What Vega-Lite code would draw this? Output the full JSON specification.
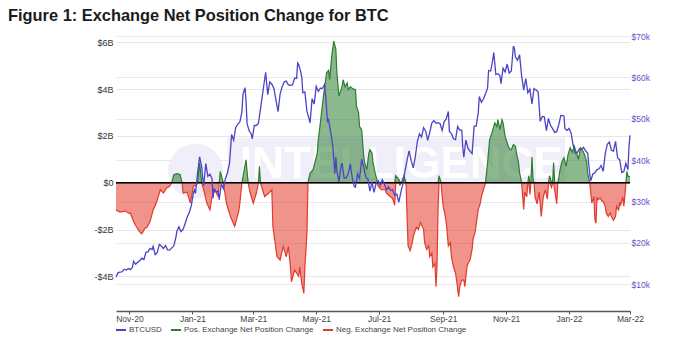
{
"$schema":"https://vega.github.io/schema/vega-lite/v6.json",
"width":514,"height":275,
"autosize":{"type":"none"},
"padding":{"left":116,"top":36,"right":49,"bottom":26},
"background":"#ffffff",
"config":{"view":{"stroke":null},"font":"Liberation Sans","axis":{"labelFont":"Liberation Sans"},"legend":{"labelFont":"Liberation Sans"}},
"title":{"text":"Figure 1: Exchange Net Position Change for BTC","anchor":"start","frame":"group","dx":-108,"offset":8,"fontSize":16.4,"fontWeight":"bold","font":"Liberation Sans","color":"#1b1b1b"},
"datasets":{
"net":[
{"date":"2020-10-19","pos":0,"neg":-1.16},{"date":"2020-10-23","pos":0,"neg":-1.25},{"date":"2020-10-28","pos":0,"neg":-1.2},{"date":"2020-10-31","pos":0,"neg":-1.3},{"date":"2020-11-02","pos":0,"neg":-1.3},{"date":"2020-11-05","pos":0,"neg":-1.66},{"date":"2020-11-08","pos":0,"neg":-1.9},{"date":"2020-11-11","pos":0,"neg":-2.1},{"date":"2020-11-13","pos":0,"neg":-2.18},{"date":"2020-11-16","pos":0,"neg":-1.95},{"date":"2020-11-18","pos":0,"neg":-1.9},{"date":"2020-11-21","pos":0,"neg":-1.66},{"date":"2020-11-24","pos":0,"neg":-1.16},{"date":"2020-11-27","pos":0,"neg":-0.87},{"date":"2020-12-01","pos":0,"neg":-0.3},{"date":"2020-12-04","pos":0,"neg":-0.44},{"date":"2020-12-07","pos":0,"neg":-0.22},{"date":"2020-12-10","pos":0,"neg":-0.15},{"date":"2020-12-12","pos":0,"neg":0},{"date":"2020-12-14","pos":0.34,"neg":0},{"date":"2020-12-17","pos":0.39,"neg":0},{"date":"2020-12-20","pos":0.35,"neg":0},{"date":"2020-12-22","pos":0,"neg":0},{"date":"2020-12-23","pos":0,"neg":-0.44},{"date":"2020-12-27","pos":0,"neg":-0.4},{"date":"2020-12-30","pos":0,"neg":-0.87},{"date":"2021-01-02","pos":0,"neg":-0.15},{"date":"2021-01-05","pos":0,"neg":-0.1},{"date":"2021-01-06","pos":0,"neg":0},{"date":"2021-01-08","pos":0.85,"neg":0},{"date":"2021-01-10","pos":0,"neg":0},{"date":"2021-01-12","pos":0,"neg":-0.3},{"date":"2021-01-15","pos":0,"neg":-0.87},{"date":"2021-01-18","pos":0,"neg":-1.16},{"date":"2021-01-20","pos":0,"neg":-0.6},{"date":"2021-01-23","pos":0,"neg":-0.3},{"date":"2021-01-26","pos":0,"neg":-0.6},{"date":"2021-01-27","pos":0,"neg":0},{"date":"2021-01-28","pos":0.48,"neg":0},{"date":"2021-01-31","pos":0,"neg":0},{"date":"2021-02-03","pos":0,"neg":-0.87},{"date":"2021-02-07","pos":0,"neg":-1.45},{"date":"2021-02-11","pos":0,"neg":-1.87},{"date":"2021-02-15","pos":0,"neg":-1.2},{"date":"2021-02-16","pos":0,"neg":-0.87},{"date":"2021-02-18","pos":0,"neg":0},{"date":"2021-02-22","pos":0.98,"neg":0},{"date":"2021-02-24","pos":0,"neg":0},{"date":"2021-02-26","pos":0,"neg":-0.44},{"date":"2021-03-01","pos":0,"neg":-0.87},{"date":"2021-03-04","pos":0,"neg":-0.44},{"date":"2021-03-06","pos":0,"neg":0},{"date":"2021-03-07","pos":0.7,"neg":0},{"date":"2021-03-08","pos":0,"neg":0},{"date":"2021-03-09","pos":0,"neg":-0.15},{"date":"2021-03-12","pos":0,"neg":-0.6},{"date":"2021-03-16","pos":0,"neg":-0.44},{"date":"2021-03-19","pos":0,"neg":-0.3},{"date":"2021-03-20","pos":0,"neg":-1.87},{"date":"2021-03-24","pos":0,"neg":-3.16},{"date":"2021-03-27","pos":0,"neg":-3.3},{"date":"2021-03-30","pos":0,"neg":-2.73},{"date":"2021-04-02","pos":0,"neg":-3.16},{"date":"2021-04-04","pos":0,"neg":-2.73},{"date":"2021-04-06","pos":0,"neg":-3.6},{"date":"2021-04-07","pos":0,"neg":-4.23},{"date":"2021-04-10","pos":0,"neg":-3.73},{"date":"2021-04-14","pos":0,"neg":-4.0},{"date":"2021-04-15","pos":0,"neg":-3.6},{"date":"2021-04-17","pos":0,"neg":-4.3},{"date":"2021-04-19","pos":0,"neg":-4.73},{"date":"2021-04-20","pos":0,"neg":-3.6},{"date":"2021-04-22","pos":0,"neg":-2.16},{"date":"2021-04-23","pos":0,"neg":0},{"date":"2021-04-25","pos":0.4,"neg":0},{"date":"2021-04-28","pos":0.56,"neg":0},{"date":"2021-05-02","pos":1.26,"neg":0},{"date":"2021-05-03","pos":1.84,"neg":0},{"date":"2021-05-05","pos":2.56,"neg":0},{"date":"2021-05-08","pos":3.7,"neg":0},{"date":"2021-05-11","pos":4.7,"neg":0},{"date":"2021-05-13","pos":4.8,"neg":0},{"date":"2021-05-14","pos":4.4,"neg":0},{"date":"2021-05-16","pos":5.4,"neg":0},{"date":"2021-05-18","pos":6.05,"neg":0},{"date":"2021-05-20","pos":5.7,"neg":0},{"date":"2021-05-21","pos":4.7,"neg":0},{"date":"2021-05-23","pos":3.7,"neg":0},{"date":"2021-05-26","pos":4.1,"neg":0},{"date":"2021-05-27","pos":4.4,"neg":0},{"date":"2021-05-29","pos":4.1,"neg":0},{"date":"2021-05-31","pos":4.27,"neg":0},{"date":"2021-06-01","pos":3.98,"neg":0},{"date":"2021-06-03","pos":4.1,"neg":0},{"date":"2021-06-06","pos":4.0,"neg":0},{"date":"2021-06-08","pos":3.98,"neg":0},{"date":"2021-06-09","pos":3.27,"neg":0},{"date":"2021-06-11","pos":3.0,"neg":0},{"date":"2021-06-12","pos":2.4,"neg":0},{"date":"2021-06-14","pos":2.27,"neg":0},{"date":"2021-06-16","pos":1.13,"neg":0},{"date":"2021-06-17","pos":0.85,"neg":0},{"date":"2021-06-19","pos":0.56,"neg":0},{"date":"2021-06-21","pos":1.27,"neg":0},{"date":"2021-06-22","pos":1.41,"neg":0},{"date":"2021-06-24","pos":1.27,"neg":0},{"date":"2021-06-25","pos":0.85,"neg":0},{"date":"2021-06-27","pos":0.43,"neg":0},{"date":"2021-06-29","pos":0.07,"neg":0},{"date":"2021-06-30","pos":0,"neg":-0.15},{"date":"2021-07-03","pos":0,"neg":-0.3},{"date":"2021-07-07","pos":0,"neg":-0.3},{"date":"2021-07-08","pos":0,"neg":-0.44},{"date":"2021-07-12","pos":0,"neg":-0.6},{"date":"2021-07-14","pos":0,"neg":-0.67},{"date":"2021-07-16","pos":0,"neg":-0.96},{"date":"2021-07-17","pos":0.3,"neg":0},{"date":"2021-07-20","pos":0.15,"neg":0},{"date":"2021-07-21","pos":0,"neg":-0.1},{"date":"2021-07-23","pos":0.05,"neg":0},{"date":"2021-07-25","pos":0.3,"neg":0},{"date":"2021-07-27","pos":0,"neg":0},{"date":"2021-07-28","pos":0,"neg":-1.43},{"date":"2021-07-29","pos":0,"neg":-2.7},{"date":"2021-07-31","pos":0,"neg":-2.9},{"date":"2021-08-02","pos":0,"neg":-2.56},{"date":"2021-08-03","pos":0,"neg":-2.3},{"date":"2021-08-06","pos":0,"neg":-1.9},{"date":"2021-08-08","pos":0,"neg":-2.0},{"date":"2021-08-10","pos":0,"neg":-1.7},{"date":"2021-08-11","pos":0,"neg":-1.8},{"date":"2021-08-13","pos":0,"neg":-2.0},{"date":"2021-08-14","pos":0,"neg":-2.56},{"date":"2021-08-16","pos":0,"neg":-2.85},{"date":"2021-08-18","pos":0,"neg":-2.7},{"date":"2021-08-19","pos":0,"neg":-3.16},{"date":"2021-08-21","pos":0,"neg":-3.0},{"date":"2021-08-22","pos":0,"neg":-3.6},{"date":"2021-08-24","pos":0,"neg":-3.45},{"date":"2021-08-25","pos":0,"neg":-4.44},{"date":"2021-08-26","pos":0,"neg":-3.6},{"date":"2021-08-27","pos":0,"neg":-1.14},{"date":"2021-08-28","pos":0.3,"neg":0},{"date":"2021-08-30","pos":0,"neg":0},{"date":"2021-08-31","pos":0,"neg":-0.6},{"date":"2021-09-01","pos":0,"neg":-1.0},{"date":"2021-09-03","pos":0,"neg":-1.43},{"date":"2021-09-04","pos":0,"neg":-1.7},{"date":"2021-09-06","pos":0,"neg":-2.7},{"date":"2021-09-08","pos":0,"neg":-2.56},{"date":"2021-09-09","pos":0,"neg":-3.16},{"date":"2021-09-11","pos":0,"neg":-3.6},{"date":"2021-09-13","pos":0,"neg":-3.87},{"date":"2021-09-14","pos":0,"neg":-4.16},{"date":"2021-09-16","pos":0,"neg":-4.87},{"date":"2021-09-17","pos":0,"neg":-4.44},{"date":"2021-09-19","pos":0,"neg":-4.16},{"date":"2021-09-21","pos":0,"neg":-4.16},{"date":"2021-09-22","pos":0,"neg":-4.44},{"date":"2021-09-24","pos":0,"neg":-3.6},{"date":"2021-09-25","pos":0,"neg":-3.45},{"date":"2021-09-27","pos":0,"neg":-3.3},{"date":"2021-09-29","pos":0,"neg":-2.85},{"date":"2021-09-30","pos":0,"neg":-2.4},{"date":"2021-10-02","pos":0,"neg":-2.1},{"date":"2021-10-04","pos":0,"neg":-1.45},{"date":"2021-10-05","pos":0,"neg":-1.14},{"date":"2021-10-07","pos":0,"neg":-0.87},{"date":"2021-10-08","pos":0,"neg":-0.6},{"date":"2021-10-10","pos":0,"neg":-0.3},{"date":"2021-10-12","pos":0,"neg":0},{"date":"2021-10-14","pos":0.85,"neg":0},{"date":"2021-10-16","pos":1.84,"neg":0},{"date":"2021-10-18","pos":2.1,"neg":0},{"date":"2021-10-20","pos":2.4,"neg":0},{"date":"2021-10-21","pos":2.56,"neg":0},{"date":"2021-10-23","pos":2.4,"neg":0},{"date":"2021-10-24","pos":2.7,"neg":0},{"date":"2021-10-26","pos":2.27,"neg":0},{"date":"2021-10-28","pos":2.7,"neg":0},{"date":"2021-10-29","pos":2.56,"neg":0},{"date":"2021-10-31","pos":1.98,"neg":0},{"date":"2021-11-02","pos":1.7,"neg":0},{"date":"2021-11-03","pos":1.56,"neg":0},{"date":"2021-11-05","pos":1.41,"neg":0},{"date":"2021-11-06","pos":1.41,"neg":0},{"date":"2021-11-08","pos":1.63,"neg":0},{"date":"2021-11-10","pos":1.56,"neg":0},{"date":"2021-11-11","pos":1.27,"neg":0},{"date":"2021-11-13","pos":0.85,"neg":0},{"date":"2021-11-14","pos":0.43,"neg":0},{"date":"2021-11-16","pos":0,"neg":0},{"date":"2021-11-18","pos":0,"neg":-1.14},{"date":"2021-11-19","pos":0,"neg":-0.4},{"date":"2021-11-21","pos":0,"neg":-0.6},{"date":"2021-11-22","pos":0,"neg":0},{"date":"2021-11-23","pos":0.3,"neg":0},{"date":"2021-11-24","pos":0,"neg":-0.5},{"date":"2021-11-25","pos":0,"neg":0},{"date":"2021-11-26","pos":1.1,"neg":0},{"date":"2021-11-27","pos":0.2,"neg":0},{"date":"2021-11-28","pos":0,"neg":0},{"date":"2021-11-29","pos":0,"neg":-0.6},{"date":"2021-12-01","pos":0,"neg":-0.9},{"date":"2021-12-03","pos":0,"neg":-0.4},{"date":"2021-12-05","pos":0,"neg":-1.44},{"date":"2021-12-07","pos":0,"neg":-0.6},{"date":"2021-12-09","pos":0,"neg":-0.3},{"date":"2021-12-11","pos":0,"neg":-0.7},{"date":"2021-12-12","pos":0,"neg":0},{"date":"2021-12-13","pos":0.3,"neg":0},{"date":"2021-12-15","pos":0,"neg":-0.2},{"date":"2021-12-16","pos":0,"neg":0},{"date":"2021-12-17","pos":0.86,"neg":0},{"date":"2021-12-18","pos":0,"neg":-0.3},{"date":"2021-12-20","pos":0,"neg":-0.9},{"date":"2021-12-21","pos":0,"neg":0},{"date":"2021-12-22","pos":0.2,"neg":0},{"date":"2021-12-23","pos":0.5,"neg":0},{"date":"2021-12-25","pos":0.9,"neg":0},{"date":"2021-12-27","pos":1.07,"neg":0},{"date":"2021-12-29","pos":0.7,"neg":0},{"date":"2021-12-31","pos":1.2,"neg":0},{"date":"2022-01-02","pos":1.5,"neg":0},{"date":"2022-01-04","pos":1.3,"neg":0},{"date":"2022-01-06","pos":1.56,"neg":0},{"date":"2022-01-08","pos":1.3,"neg":0},{"date":"2022-01-10","pos":1.0,"neg":0},{"date":"2022-01-12","pos":1.49,"neg":0},{"date":"2022-01-14","pos":1.4,"neg":0},{"date":"2022-01-16","pos":1.2,"neg":0},{"date":"2022-01-18","pos":0.9,"neg":0},{"date":"2022-01-19","pos":0.4,"neg":0},{"date":"2022-01-21","pos":0,"neg":0},{"date":"2022-01-23","pos":0,"neg":-0.87},{"date":"2022-01-25","pos":0,"neg":-0.6},{"date":"2022-01-26","pos":0,"neg":-1.58},{"date":"2022-01-27","pos":0,"neg":-1.73},{"date":"2022-01-28","pos":0,"neg":-0.65},{"date":"2022-01-29","pos":0,"neg":-0.73},{"date":"2022-01-31","pos":0,"neg":-0.65},{"date":"2022-02-02","pos":0,"neg":-0.8},{"date":"2022-02-03","pos":0,"neg":-0.8},{"date":"2022-02-05","pos":0,"neg":-1.0},{"date":"2022-02-06","pos":0,"neg":-1.3},{"date":"2022-02-08","pos":0,"neg":-1.44},{"date":"2022-02-10","pos":0,"neg":-1.3},{"date":"2022-02-11","pos":0,"neg":-1.44},{"date":"2022-02-13","pos":0,"neg":-1.6},{"date":"2022-02-15","pos":0,"neg":-1.44},{"date":"2022-02-16","pos":0,"neg":-1.0},{"date":"2022-02-18","pos":0,"neg":-1.16},{"date":"2022-02-19","pos":0,"neg":-0.87},{"date":"2022-02-20","pos":0,"neg":-0.95},{"date":"2022-02-22","pos":0,"neg":-0.6},{"date":"2022-02-23","pos":0,"neg":-1.0},{"date":"2022-02-24","pos":0,"neg":-0.6},{"date":"2022-02-25","pos":0,"neg":0},{"date":"2022-02-26","pos":0.49,"neg":0},{"date":"2022-02-27","pos":0.28,"neg":0},{"date":"2022-03-01","pos":0.25,"neg":0}
],
"btc":[
{"date":"2020-10-19","price":11.75},{"date":"2020-10-21","price":12.82},{"date":"2020-10-23","price":12.93},{"date":"2020-10-25","price":13.03},{"date":"2020-10-27","price":13.65},{"date":"2020-10-29","price":13.46},{"date":"2020-10-31","price":13.8},{"date":"2020-11-02","price":13.55},{"date":"2020-11-04","price":14.15},{"date":"2020-11-05","price":15.59},{"date":"2020-11-07","price":14.83},{"date":"2020-11-09","price":15.33},{"date":"2020-11-11","price":15.7},{"date":"2020-11-13","price":16.3},{"date":"2020-11-15","price":15.96},{"date":"2020-11-17","price":17.72},{"date":"2020-11-19","price":17.82},{"date":"2020-11-21","price":18.68},{"date":"2020-11-23","price":18.41},{"date":"2020-11-24","price":19.17},{"date":"2020-11-26","price":17.15},{"date":"2020-11-28","price":17.72},{"date":"2020-11-30","price":19.63},{"date":"2020-12-02","price":19.2},{"date":"2020-12-04","price":18.66},{"date":"2020-12-06","price":19.36},{"date":"2020-12-08","price":18.32},{"date":"2020-12-10","price":18.25},{"date":"2020-12-12","price":18.8},{"date":"2020-12-14","price":19.27},{"date":"2020-12-16","price":21.31},{"date":"2020-12-17","price":22.81},{"date":"2020-12-19","price":23.87},{"date":"2020-12-21","price":22.73},{"date":"2020-12-23","price":23.24},{"date":"2020-12-25","price":24.71},{"date":"2020-12-27","price":26.27},{"date":"2020-12-29","price":27.36},{"date":"2020-12-31","price":29.0},{"date":"2021-01-02","price":32.13},{"date":"2021-01-03","price":32.78},{"date":"2021-01-04","price":31.97},{"date":"2021-01-06","price":36.82},{"date":"2021-01-08","price":40.8},{"date":"2021-01-10","price":38.36},{"date":"2021-01-11","price":35.57},{"date":"2021-01-12","price":33.92},{"date":"2021-01-14","price":39.19},{"date":"2021-01-16","price":36.07},{"date":"2021-01-18","price":36.63},{"date":"2021-01-20","price":35.51},{"date":"2021-01-21","price":30.83},{"date":"2021-01-22","price":32.99},{"date":"2021-01-24","price":32.29},{"date":"2021-01-26","price":32.57},{"date":"2021-01-27","price":30.43},{"date":"2021-01-29","price":34.32},{"date":"2021-01-31","price":33.11},{"date":"2021-02-02","price":35.51},{"date":"2021-02-04","price":36.94},{"date":"2021-02-06","price":39.27},{"date":"2021-02-08","price":46.2},{"date":"2021-02-10","price":44.84},{"date":"2021-02-12","price":47.91},{"date":"2021-02-14","price":48.72},{"date":"2021-02-16","price":49.21},{"date":"2021-02-18","price":51.68},{"date":"2021-02-19","price":55.89},{"date":"2021-02-21","price":57.54},{"date":"2021-02-22","price":54.21},{"date":"2021-02-23","price":48.82},{"date":"2021-02-25","price":47.09},{"date":"2021-02-27","price":46.34},{"date":"2021-02-28","price":45.14},{"date":"2021-03-02","price":48.38},{"date":"2021-03-04","price":48.37},{"date":"2021-03-06","price":48.91},{"date":"2021-03-08","price":52.38},{"date":"2021-03-10","price":55.95},{"date":"2021-03-13","price":61.24},{"date":"2021-03-15","price":55.83},{"date":"2021-03-17","price":58.89},{"date":"2021-03-19","price":58.35},{"date":"2021-03-21","price":57.35},{"date":"2021-03-23","price":54.53},{"date":"2021-03-25","price":51.7},{"date":"2021-03-27","price":55.95},{"date":"2021-03-29","price":57.75},{"date":"2021-03-31","price":58.92},{"date":"2021-04-02","price":59.1},{"date":"2021-04-04","price":58.2},{"date":"2021-04-06","price":58.1},{"date":"2021-04-08","price":58.2},{"date":"2021-04-10","price":59.79},{"date":"2021-04-12","price":59.79},{"date":"2021-04-13","price":63.5},{"date":"2021-04-14","price":63.11},{"date":"2021-04-16","price":61.34},{"date":"2021-04-17","price":60.05},{"date":"2021-04-18","price":56.27},{"date":"2021-04-20","price":56.47},{"date":"2021-04-22","price":51.7},{"date":"2021-04-24","price":50.09},{"date":"2021-04-25","price":49.0},{"date":"2021-04-27","price":54.86},{"date":"2021-04-29","price":53.56},{"date":"2021-05-01","price":57.83},{"date":"2021-05-03","price":56.62},{"date":"2021-05-05","price":57.39},{"date":"2021-05-07","price":57.36},{"date":"2021-05-09","price":58.23},{"date":"2021-05-10","price":55.86},{"date":"2021-05-12","price":49.15},{"date":"2021-05-13","price":49.72},{"date":"2021-05-15","price":46.76},{"date":"2021-05-17","price":43.54},{"date":"2021-05-19","price":36.7},{"date":"2021-05-20","price":40.78},{"date":"2021-05-21","price":37.3},{"date":"2021-05-23","price":34.77},{"date":"2021-05-25","price":38.4},{"date":"2021-05-26","price":39.29},{"date":"2021-05-28","price":35.68},{"date":"2021-05-30","price":35.68},{"date":"2021-06-01","price":36.69},{"date":"2021-06-03","price":39.1},{"date":"2021-06-05","price":35.55},{"date":"2021-06-07","price":33.56},{"date":"2021-06-08","price":33.47},{"date":"2021-06-10","price":36.68},{"date":"2021-06-12","price":35.55},{"date":"2021-06-14","price":40.22},{"date":"2021-06-16","price":38.32},{"date":"2021-06-18","price":35.82},{"date":"2021-06-20","price":35.48},{"date":"2021-06-22","price":32.51},{"date":"2021-06-24","price":34.7},{"date":"2021-06-26","price":32.19},{"date":"2021-06-28","price":34.43},{"date":"2021-06-30","price":35.04},{"date":"2021-07-02","price":33.86},{"date":"2021-07-04","price":35.29},{"date":"2021-07-06","price":34.23},{"date":"2021-07-08","price":32.86},{"date":"2021-07-10","price":33.51},{"date":"2021-07-12","price":32.7},{"date":"2021-07-14","price":32.82},{"date":"2021-07-16","price":31.53},{"date":"2021-07-18","price":31.8},{"date":"2021-07-20","price":29.81},{"date":"2021-07-22","price":32.29},{"date":"2021-07-24","price":34.24},{"date":"2021-07-26","price":37.34},{"date":"2021-07-28","price":39.99},{"date":"2021-07-30","price":42.24},{"date":"2021-08-01","price":39.87},{"date":"2021-08-03","price":38.15},{"date":"2021-08-05","price":40.87},{"date":"2021-08-07","price":44.56},{"date":"2021-08-09","price":46.36},{"date":"2021-08-11","price":45.59},{"date":"2021-08-13","price":47.83},{"date":"2021-08-15","price":47.05},{"date":"2021-08-17","price":44.8},{"date":"2021-08-19","price":46.72},{"date":"2021-08-21","price":48.95},{"date":"2021-08-23","price":49.55},{"date":"2021-08-25","price":48.9},{"date":"2021-08-27","price":49.07},{"date":"2021-08-29","price":48.81},{"date":"2021-08-31","price":47.17},{"date":"2021-09-02","price":49.33},{"date":"2021-09-04","price":49.94},{"date":"2021-09-06","price":51.77},{"date":"2021-09-07","price":46.92},{"date":"2021-09-09","price":46.4},{"date":"2021-09-11","price":45.16},{"date":"2021-09-13","price":44.95},{"date":"2021-09-15","price":48.16},{"date":"2021-09-17","price":47.26},{"date":"2021-09-19","price":47.26},{"date":"2021-09-20","price":43.01},{"date":"2021-09-21","price":40.72},{"date":"2021-09-23","price":44.88},{"date":"2021-09-25","price":42.84},{"date":"2021-09-27","price":42.17},{"date":"2021-09-29","price":41.56},{"date":"2021-10-01","price":48.2},{"date":"2021-10-03","price":48.23},{"date":"2021-10-05","price":51.51},{"date":"2021-10-06","price":55.36},{"date":"2021-10-08","price":53.97},{"date":"2021-10-10","price":54.77},{"date":"2021-10-12","price":56.04},{"date":"2021-10-14","price":57.4},{"date":"2021-10-15","price":61.67},{"date":"2021-10-17","price":61.53},{"date":"2021-10-19","price":64.26},{"date":"2021-10-20","price":65.99},{"date":"2021-10-22","price":60.69},{"date":"2021-10-24","price":60.89},{"date":"2021-10-26","price":60.36},{"date":"2021-10-27","price":58.48},{"date":"2021-10-29","price":62.21},{"date":"2021-10-31","price":61.32},{"date":"2021-11-02","price":63.23},{"date":"2021-11-04","price":61.0},{"date":"2021-11-06","price":61.53},{"date":"2021-11-08","price":67.57},{"date":"2021-11-09","price":66.97},{"date":"2021-11-10","price":64.99},{"date":"2021-11-12","price":64.16},{"date":"2021-11-14","price":65.47},{"date":"2021-11-16","price":60.36},{"date":"2021-11-18","price":56.94},{"date":"2021-11-20","price":59.73},{"date":"2021-11-22","price":56.29},{"date":"2021-11-24","price":57.17},{"date":"2021-11-26","price":53.57},{"date":"2021-11-28","price":57.27},{"date":"2021-11-30","price":56.95},{"date":"2021-12-02","price":56.51},{"date":"2021-12-04","price":49.37},{"date":"2021-12-06","price":50.58},{"date":"2021-12-08","price":50.49},{"date":"2021-12-10","price":47.12},{"date":"2021-12-12","price":50.1},{"date":"2021-12-14","price":48.38},{"date":"2021-12-16","price":47.63},{"date":"2021-12-18","price":46.71},{"date":"2021-12-20","price":46.88},{"date":"2021-12-22","price":48.62},{"date":"2021-12-24","price":50.81},{"date":"2021-12-26","price":50.78},{"date":"2021-12-27","price":50.64},{"date":"2021-12-28","price":47.59},{"date":"2021-12-30","price":47.18},{"date":"2022-01-01","price":47.69},{"date":"2022-01-03","price":46.46},{"date":"2022-01-05","price":43.54},{"date":"2022-01-07","price":41.57},{"date":"2022-01-09","price":41.83},{"date":"2022-01-11","price":42.74},{"date":"2022-01-13","price":42.59},{"date":"2022-01-15","price":43.1},{"date":"2022-01-17","price":42.25},{"date":"2022-01-19","price":41.74},{"date":"2022-01-21","price":36.48},{"date":"2022-01-22","price":35.03},{"date":"2022-01-24","price":36.65},{"date":"2022-01-26","price":36.95},{"date":"2022-01-28","price":37.71},{"date":"2022-01-30","price":37.92},{"date":"2022-02-01","price":38.73},{"date":"2022-02-03","price":37.3},{"date":"2022-02-05","price":41.57},{"date":"2022-02-07","price":43.84},{"date":"2022-02-09","price":44.35},{"date":"2022-02-11","price":42.41},{"date":"2022-02-13","price":42.2},{"date":"2022-02-15","price":44.54},{"date":"2022-02-17","price":40.55},{"date":"2022-02-19","price":40.12},{"date":"2022-02-21","price":37.0},{"date":"2022-02-23","price":37.25},{"date":"2022-02-25","price":39.21},{"date":"2022-02-27","price":37.7},{"date":"2022-02-28","price":43.19},{"date":"2022-03-01","price":46.0}
]
},
"resolve":{"scale":{"y":"independent"}},
"layer":[
{"layer":[
{"data":{"values":[{}]},"mark":{"type":"rect","color":"#efeef9"},"encoding":{"x":{"datum":{"year":2021,"month":2,"date":4,"utc":true},"type":"temporal"},"x2":{"datum":{"year":2021,"month":12,"date":28,"utc":true}},"y":{"datum":0,"type":"quantitative"},"y2":{"datum":1.92}}},
{"data":{"values":[{}]},"mark":{"type":"point","filled":true,"color":"#efeef9","opacity":1,"size":3000},"encoding":{"x":{"datum":{"year":2021,"month":1,"date":4,"utc":true},"type":"temporal"},"y":{"datum":0.5,"type":"quantitative"}}},
{"data":{"values":[{}]},"mark":{"type":"text","text":"INTELLIGENCE","font":"Liberation Sans","fontWeight":"bold","fontSize":44,"color":"#ffffff","align":"left","baseline":"alphabetic"},"encoding":{"x":{"datum":{"year":2021,"month":2,"date":16,"utc":true},"type":"temporal"},"y":{"datum":0.2,"type":"quantitative"}}},
{"data":{"name":"net"},"mark":{"type":"area","fillOpacity":0.55,"line":{"strokeWidth":1.2}},
 "encoding":{
  "x":{"field":"date","type":"temporal","scale":{"type":"utc","domain":[{"year":2020,"month":10,"date":19,"utc":true},{"year":2022,"month":3,"date":1,"utc":true}]},
   "axis":{"title":null,"grid":false,"format":"%b-%y","labelOverlap":false,"labelFlush":false,"values":[{"year":2020,"month":11,"date":1,"utc":true},{"year":2021,"month":1,"date":1,"utc":true},{"year":2021,"month":3,"date":1,"utc":true},{"year":2021,"month":5,"date":1,"utc":true},{"year":2021,"month":7,"date":1,"utc":true},{"year":2021,"month":9,"date":1,"utc":true},{"year":2021,"month":11,"date":1,"utc":true},{"year":2022,"month":1,"date":1,"utc":true},{"year":2022,"month":3,"date":1,"utc":true}],"domainColor":"#555555","domainWidth":1.5,"tickColor":"#555555","tickSize":3,"labelFontSize":8.5,"labelColor":"#444444","labelPadding":0}},
  "y":{"field":"pos","type":"quantitative","scale":{"domain":[-5.48,6.27],"nice":false,"zero":false},
   "axis":{"title":null,"orient":"left","values":[-4,-2,0,2,4,6],"labelExpr":"datum.value == 0 ? '$0' : (datum.value < 0 ? '-$' + abs(datum.value) + 'B' : '$' + datum.value + 'B')","domain":false,"ticks":false,"grid":true,"gridColor":"#e6e6e6","labelFontSize":9,"labelColor":"#333333","labelPadding":3}},
  "y2":{"datum":0},
  "color":{"datum":"Pos. Exchange Net Position Change","type":"nominal",
   "scale":{"domain":["BTCUSD","Pos. Exchange Net Position Change","Neg. Exchange Net Position Change"],"range":["#4b44c4","#2e7d32","#e23a2c"]},
   "legend":{"orient":"none","legendX":-1,"legendY":288,"direction":"horizontal","title":null,"symbolType":"stroke","symbolSize":100,"symbolStrokeWidth":2,"labelFontSize":8,"labelColor":"#444444","labelOffset":2,"columnPadding":5,"padding":0,
    "encode":{"symbols":{"update":{"stroke":{"scale":"color","field":"value"},"strokeWidth":{"value":2},"opacity":{"value":1}}}}}}
 }},
{"data":{"name":"net"},"mark":{"type":"area","fillOpacity":0.55,"line":{"strokeWidth":1.2}},
 "encoding":{"x":{"field":"date","type":"temporal"},"y":{"field":"neg","type":"quantitative"},"y2":{"datum":0},"color":{"datum":"Neg. Exchange Net Position Change","type":"nominal"}}},
{"data":{"values":[{}]},"mark":{"type":"rule","color":"#000000","strokeWidth":1.5},"encoding":{"y":{"datum":0,"type":"quantitative"}}}
]},
{"data":{"name":"btc"},"mark":{"type":"line","strokeWidth":1.3},
 "encoding":{"x":{"field":"date","type":"temporal"},
  "y":{"field":"price","type":"quantitative","scale":{"domain":[3.55,70],"nice":false,"zero":false},
   "axis":{"title":null,"orient":"right","values":[10,20,30,40,50,60,70],"labelExpr":"'$' + datum.value + 'k'","domain":false,"ticks":false,"grid":true,"gridColor":"#e9e9e9","labelFontSize":8.5,"labelColor":"#5b54c9","labelPadding":1}},
  "color":{"datum":"BTCUSD","type":"nominal"}}}
]
}
